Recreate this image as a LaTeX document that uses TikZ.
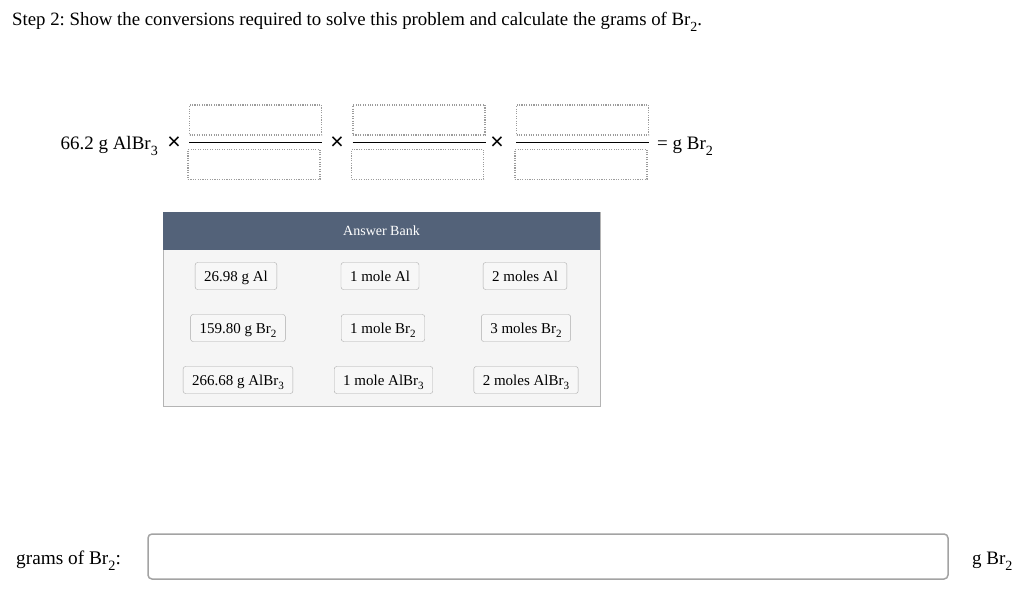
\documentclass[tikz,border=0pt]{standalone}
\usepackage{amsmath}
\usepackage{fontspec}
\setmainfont{Liberation Serif}
\newfontfamily\crossfont{Liberation Sans}
\usetikzlibrary{positioning}
\frenchspacing

\makeatletter
\newlength\chemsubsize
\newcommand{\chemsub}[1]{\setlength\chemsubsize{\f@size pt}\chemsubsize=0.74\chemsubsize\raisebox{-0.3em}{\fontsize{\chemsubsize}{\chemsubsize}\selectfont #1}}
\makeatother

\definecolor{bankhead}{HTML}{536279}
\definecolor{bankbody}{HTML}{F5F5F5}
\definecolor{bankline}{HTML}{B4B4B4}
\definecolor{chipline}{HTML}{ABABAB}
\definecolor{chipfill}{HTML}{F7F7F7}
\definecolor{slotline}{HTML}{9C9C9C}
\definecolor{inputline}{HTML}{A3A3A3}

\tikzset{
	slot/.style={draw=slotline, line width=1.1pt, dash pattern=on 1.1pt off 1.3pt, minimum width=132pt, minimum height=30pt, inner sep=0pt},
	chip/.style={draw=chipline, fill=chipfill, rounded corners=2.5pt, inner xsep=9pt, inner ysep=0pt, text height=10pt, text depth=0pt, minimum height=27pt, font=\fontsize{15}{17}\selectfont},
	eqtext/.style={inner sep=0pt, font=\fontsize{19}{21}\selectfont},
	times/.style={inner sep=0pt, font=\crossfont\fontsize{23}{25}\selectfont}
}

\begin{document}
\begin{tikzpicture}[x=1pt, y=-1pt]
			\useasboundingbox (0,0) rectangle (1024,593);
			% Title
			\node[anchor=base west, inner sep=0pt, font=\fontsize{18.8}{21}\selectfont] (title) at (12,26) {Step 2: Show the conversions required to solve this problem and calculate the grams of Br\chemsub{2}.};
			% Conversion line
			\node[eqtext, anchor=base east] (start) at (158,150) {66.2 g AlBr\chemsub{3}};
			\node[times] (x0) at (174,143) {×};
			\foreach \i/\cx in {1/255.5, 2/419, 3/582.5} {
				\node[slot] (top\i) at (\cx,120) {};
				\node[slot] (bot\i) at (\cx-1.5,164.5) {};
				\coordinate (barl\i) at (\cx-66.5,142.5);
				\coordinate (barr\i) at (\cx+66.5,142.5);
				\draw[line width=1.2pt] (barl\i) -- (barr\i);
			}
			\node[times] (x1) at (337,143) {×};
			\node[times] (x2) at (497,143) {×};
			\node[eqtext, anchor=base west] (result) at (657,150) {= g Br\chemsub{2}};
			% Answer bank
			\node[draw=bankline, fill=bankbody, minimum width=437pt, minimum height=194pt, inner sep=0pt] (bank) at (381.5,309) {};
			\node[fill=bankhead, minimum width=437pt, minimum height=38pt, inner sep=0pt] (head) at (381.5,231) {};
			\node[text=white, font=\fontsize{14}{16}\selectfont] (headtext) at (head) {Answer Bank};
			\foreach \i/\cx/\cy/\txt in {
				1/236/276/{26.98 g Al}, 2/380/276/{1 mole Al}, 3/525/276/{2 moles Al},
				4/238/328/{159.80 g Br\chemsub{2}}, 5/383/328/{1 mole Br\chemsub{2}}, 6/526/328/{3 moles Br\chemsub{2}},
				7/238/380/{266.68 g AlBr\chemsub{3}}, 8/383.5/380/{1 mole AlBr\chemsub{3}}, 9/526/380/{2 moles AlBr\chemsub{3}}} {
				\node[chip] (chip\i) at (\cx,\cy) {\txt};
			}
			% Answer field
			\node[anchor=west, inner sep=0pt, font=\fontsize{19.3}{21}\selectfont] (ask) at (16,561) {grams of Br\chemsub{2}:};
			\node[draw=inputline, line width=1.5pt, rounded corners=4pt, minimum width=800pt, minimum height=45pt, inner sep=0pt] (field) at (548,556.5) {};
			\node[anchor=west, inner sep=0pt, font=\fontsize{19}{21}\selectfont] (unit) at (972,561) {g Br\chemsub{2}};
		\end{tikzpicture}
\end{document}
